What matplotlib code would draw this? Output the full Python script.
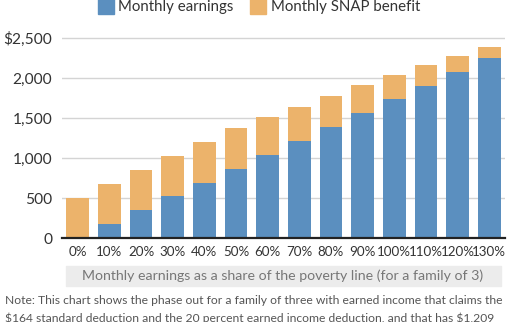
import numpy as np
import matplotlib.pyplot as plt
from matplotlib.patches import Rectangle

plt.rcParams['font.family'] = ['Lato', 'DejaVu Sans']

labels = ['0%', '10%', '20%', '30%', '40%', '50%', '60%', '70%', '80%', '90%',
          '100%', '110%', '120%', '130%']
earnings = [0, 173, 346, 520, 693, 866, 1039, 1212, 1385, 1559, 1732, 1905, 2078, 2251]
snap = [505, 505, 505, 505, 505, 505, 469, 429, 390, 349, 301, 253, 193, 132]

blue = '#5b8fbf'
orange = '#ecb36b'

fig = plt.figure(figsize=(5.12, 3.22), dpi=100)
ax = fig.add_axes([62/512, 84/322, 443/512, 208/322])

x = np.arange(len(labels))
ax.bar(x, earnings, width=0.72, color=blue, zorder=3)
ax.bar(x, snap, width=0.72, bottom=earnings, color=orange, zorder=3)

ax.set_xlim(-0.5, 13.5)
ax.set_ylim(0, 2600)
ax.set_yticks([0, 500, 1000, 1500, 2000, 2500])
ax.set_yticklabels(['0', '500', '1,000', '1,500', '2,000', r'\$2,500'],
                   fontsize=11.2, color='#333333')
ax.set_xticks(x)
ax.set_xticklabels(labels, fontsize=9.6, color='#333333')
ax.tick_params(length=0, pad=6)
ax.tick_params(axis='y', pad=7)
ax.grid(axis='y', color='#d4d4d4', lw=1, zorder=0)
for s in ['top', 'right', 'left']:
    ax.spines[s].set_visible(False)
ax.spines['bottom'].set_color('#222222')
ax.spines['bottom'].set_linewidth(1.6)
ax.spines['bottom'].set_zorder(4)

# x-axis label band
fig.patches.append(Rectangle((66/512, 36/322), 435/512, 20/322,
                             transform=fig.transFigure, color='#ececec', zorder=0))
fig.text(283/512, 46/322, 'Monthly earnings as a share of the poverty line (for a family of 3)',
         ha='center', va='center', fontsize=10.2, color='#777777')

# legend
fig.patches.append(Rectangle((98/512, (322-14)/322), 16/512, 16/322,
                             transform=fig.transFigure, color=blue))
fig.text(118/512, (322-7)/322, 'Monthly earnings', ha='left', va='center',
         fontsize=10.8, color='#333333')
fig.patches.append(Rectangle((250/512, (322-14)/322), 16/512, 16/322,
                             transform=fig.transFigure, color=orange))
fig.text(271/512, (322-7)/322, 'Monthly SNAP benefit', ha='left', va='center',
         fontsize=10.8, color='#333333')

# note
fig.text(5/512, (322-301)/322,
         'Note: This chart shows the phase out for a family of three with earned income that claims the',
         ha='left', va='center', fontsize=8.75, color='#555555')
fig.text(5/512, (322-318)/322,
         r'\$164 standard deduction and the 20 percent earned income deduction, and that has \$1,209',
         ha='left', va='center', fontsize=8.75, color='#555555')

fig.savefig('out.png', dpi=100)
